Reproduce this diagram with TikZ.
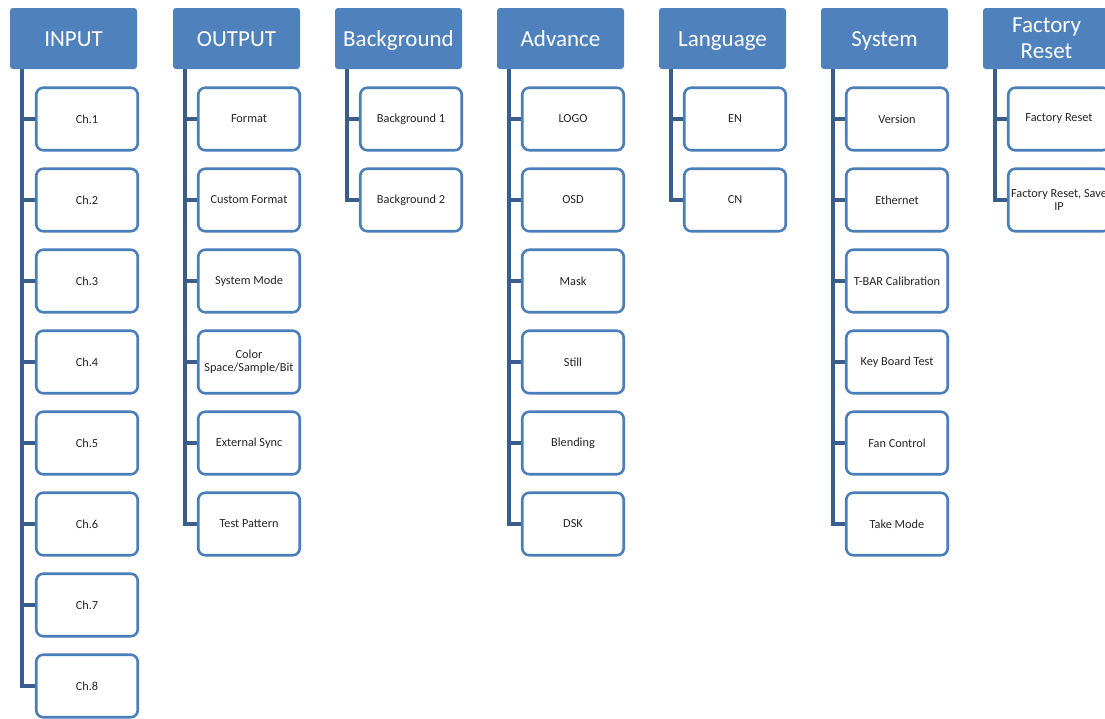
\documentclass[tikz,border=0pt]{standalone}
\usepackage{fontspec}
\setmainfont{Carlito}
\definecolor{hdrblue}{RGB}{79,129,189}
\definecolor{boxblue}{RGB}{74,126,187}
\definecolor{linkblue}{RGB}{58,94,140}
\pgfdeclarelayer{bg}
\pgfsetlayers{bg,main}
\tikzset{
  hdrbase/.style={draw=none, fill=hdrblue, rounded corners=3pt, minimum width=127pt, minimum height=61pt,
    text=white, align=center, inner sep=0pt},
  hdr/.style={hdrbase, font=\fontsize{23}{23}\selectfont, text height=15pt, text depth=0pt},
  hdrtwo/.style={hdrbase, font=\fontsize{23}{26}\selectfont},
  child/.style={draw=boxblue, line width=2.6pt, fill=white, rounded corners=7pt, minimum width=101.5pt,
    minimum height=62.5pt, font=\fontsize{12.3}{13}\selectfont, text=black!85, align=center, inner sep=1pt},
  link/.style={draw=linkblue, line width=3.2pt}
}
\begin{document}
\begin{tikzpicture}[x=1pt,y=-1pt]
\useasboundingbox (0,0) rectangle (1105,718);
\clip (0,0) rectangle (1105,718);
\def\col#1#2#3{%
  \node[hdr] (h#1) at (#2+63.5,38.5) {#3};
  \coordinate (t#1) at (#2+12,68);
}
\col{a}{10}{INPUT}
\col{b}{173}{OUTPUT}
\col{c}{335}{Background}
\col{d}{497}{Advance}
\col{e}{659}{Language}
\col{f}{821}{System}
\node[hdrtwo] (hg) at (983+63.5,38.5) {Factory\\Reset};
\coordinate (tg) at (983+12,68);
% children
\foreach \i in {1,...,8} {
  \node[child] (a\i) at (87,38+81*\i) {Ch.\i};
}
\foreach \i/\t in {1/Format,2/Custom Format,3/System Mode,4/{Color\\Space/Sample/Bit},5/External Sync,6/Test Pattern} {
  \node[child] (b\i) at (249,38+81*\i) {\t};
}
\foreach \i/\t in {1/Background 1,2/Background 2} {
  \node[child] (c\i) at (411,38+81*\i) {\t};
}
\foreach \i/\t in {1/LOGO,2/OSD,3/Mask,4/Still,5/Blending,6/DSK} {
  \node[child] (d\i) at (573,38+81*\i) {\t};
}
\foreach \i/\t in {1/EN,2/CN} {
  \node[child] (e\i) at (735,38+81*\i) {\t};
}
\foreach \i/\t in {1/Version,2/Ethernet,3/T-BAR Calibration,4/Key Board Test,5/Fan Control,6/Take Mode} {
  \node[child] (f\i) at (897,38+81*\i) {\t};
}
\node[child] (g1) at (1059,119) {Factory Reset};
\node[child] (g2) at (1059,200) {Factory Reset, Save\\IP};
% connectors (behind the boxes)
\begin{pgfonlayer}{bg}
\fill[white] (0,0) rectangle (1105,718);
\foreach \c/\n in {a/8,b/6,c/2,d/6,e/2,f/6,g/2} {
  \foreach \i in {1,...,\n} {
    \draw[link] (t\c) |- (\c\i.west);
  }
}
\end{pgfonlayer}
\end{tikzpicture}
\end{document}
